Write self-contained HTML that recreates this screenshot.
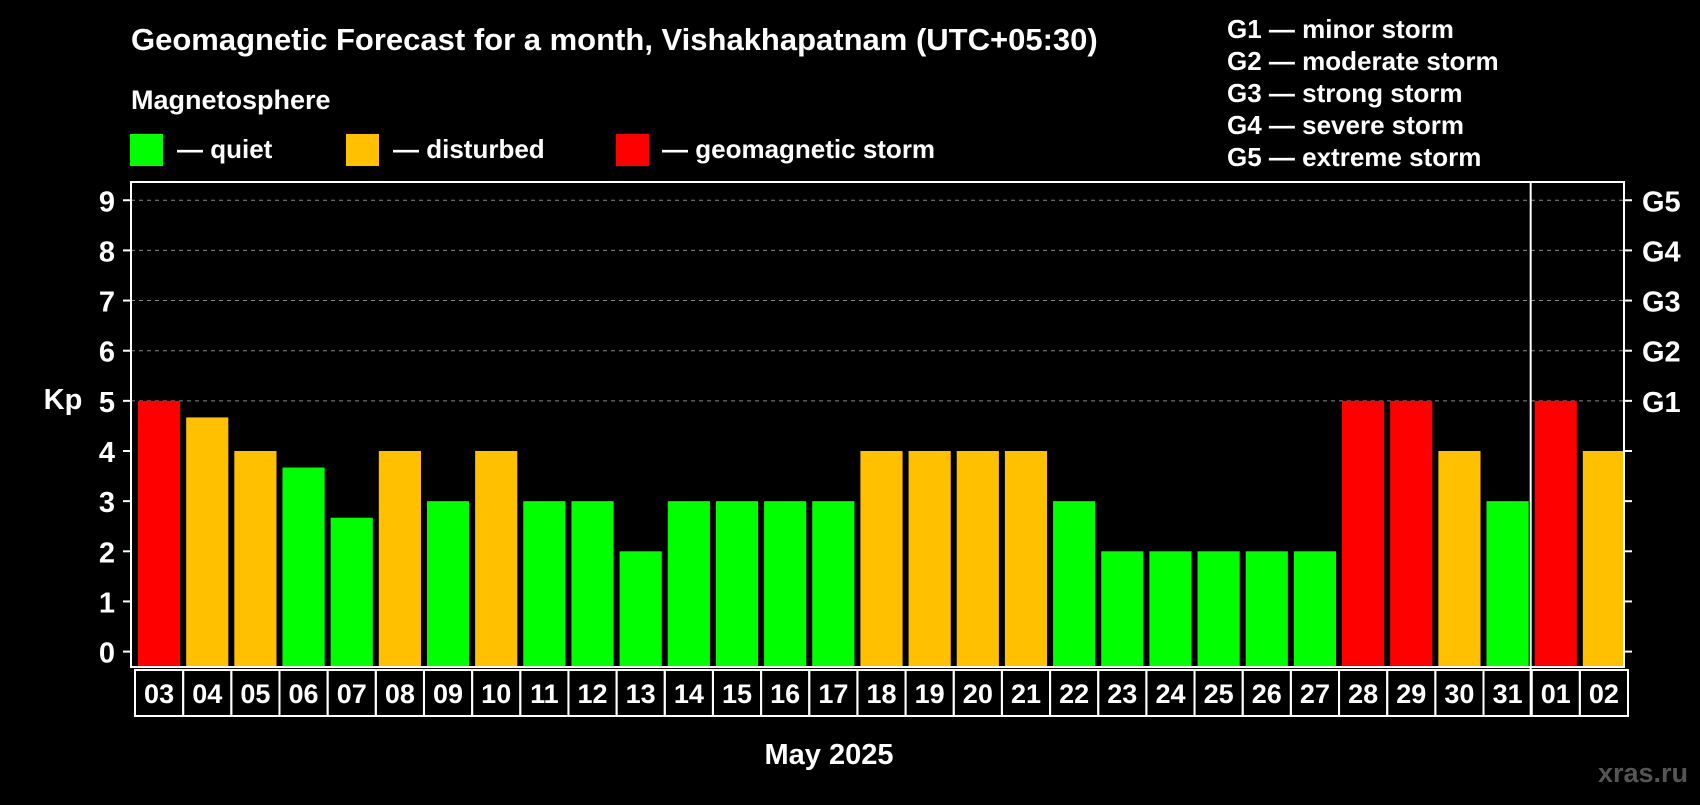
<!DOCTYPE html>
<html><head><meta charset="utf-8"><style>
body{margin:0;background:#000;width:1700px;height:800px;overflow:hidden;font-family:"Liberation Sans",sans-serif;font-weight:bold;color:#fff}
</style></head><body>
<svg id="chart" width="1700" height="800" xmlns="http://www.w3.org/2000/svg" font-family="Liberation Sans, sans-serif" font-weight="bold">
<rect width="1700" height="800" fill="#000"/>
<text x="131" y="50" font-size="31" fill="#fff">Geomagnetic Forecast for a month, Vishakhapatnam (UTC+05:30)</text>
<text x="131" y="109" font-size="27" fill="#fff">Magnetosphere</text>
<g><rect x="130" y="134" width="33" height="32" fill="#00ff00"/><text x="177" y="158" font-size="26" fill="#fff">— quiet</text></g>
<g><rect x="346" y="134" width="33" height="32" fill="#ffc000"/><text x="393" y="158" font-size="26" fill="#fff">— disturbed</text></g>
<g><rect x="616" y="134" width="33" height="32" fill="#ff0000"/><text x="662" y="158" font-size="26" fill="#fff">— geomagnetic storm</text></g>
<g font-size="26" fill="#fff">
<text x="1227" y="38">G1 — minor storm</text>
<text x="1227" y="70">G2 — moderate storm</text>
<text x="1227" y="102">G3 — strong storm</text>
<text x="1227" y="134">G4 — severe storm</text>
<text x="1227" y="166">G5 — extreme storm</text>
</g>
<text x="63" y="409" font-size="29" fill="#fff" text-anchor="middle">Kp</text>
<g id="grid"></g><g id="bars"></g><g id="axes"></g>
<text x="829" y="764" font-size="29" fill="#fff" text-anchor="middle">May 2025</text>
<text x="1688" y="782" font-size="27" fill="#555" text-anchor="end">xras.ru</text>
</svg>
<script>
const days=["03","04","05","06","07","08","09","10","11","12","13","14","15","16","17","18","19","20","21","22","23","24","25","26","27","28","29","30","31","01","02"];
const kp=[5,4.67,4,3.67,2.67,4,3,4,3,3,2,3,3,3,3,4,4,4,4,3,2,2,2,2,2,5,5,4,3,5,4];
const yTicks=[0,1,2,3,4,5,6,7,8,9];
const gLabels=["","","","","","G1","G2","G3","G4","G5"];
const NS="http://www.w3.org/2000/svg";
const L=131,R=1624,T=182,B=667,y0=651.6,unit=50.15;
const pitch=(R-L)/days.length;
function y(v){return y0-v*unit;}
function x(i){return L+i*pitch;}
function mk(tag,attrs,parent){const e=document.createElementNS(NS,tag);for(const k in attrs)e.setAttribute(k,attrs[k]);parent.appendChild(e);return e;}
const grid=document.getElementById('grid'),bars=document.getElementById('bars'),axes=document.getElementById('axes');
yTicks.forEach((t,i)=>{
 if(t>=5){const g=mk('line',{x1:L,x2:R,y1:y(t),y2:y(t),stroke:'#888','stroke-dasharray':'4,4','stroke-width':1},grid);
 
 }
 const tl=mk('line',{x1:L-8,x2:L,y1:y(t),y2:y(t),stroke:'#fff','stroke-width':2},axes);
 
 
 const tr=mk('line',{x1:R,x2:R+8,y1:y(t),y2:y(t),stroke:'#fff','stroke-width':2},axes);
 
 
 const lt=mk('text',{x:107,y:y(t)+11,'font-size':29,fill:'#fff','text-anchor':'middle'},axes);lt.textContent=t;
 
 
 if(gLabels[i]){const gt=mk('text',{x:1642,y:y(t)+11,'font-size':29,fill:'#fff'},axes);gt.textContent=gLabels[i];
 
 }
});
kp.forEach((v,i)=>{
 const c=v>=5?'#ff0000':(v>=4?'#ffc000':'#00ff00');
 const b=mk('rect',{x:x(i)+7,y:y(v),width:pitch-6,height:B-1-y(v),fill:c},bars);
 
 
 const bx=mk('rect',{x:x(i)+4,y:670,width:pitch,height:46,fill:'none',stroke:'#fff','stroke-width':2},axes);
 
 
 const tx=mk('text',{x:x(i)+4+pitch/2,y:703,'font-size':27,fill:'#fff','text-anchor':'middle'},axes);tx.textContent=days[i];
 
 
});
const fr=mk('rect',{x:L,y:T,width:R-L,height:B-T,fill:'none',stroke:'#fff','stroke-width':2},axes);


const mi=days.indexOf("01");
const ml=mk('line',{x1:x(mi)+3,x2:x(mi)+3,y1:T,y2:716,stroke:'#fff','stroke-width':2},axes);


</script>
</body></html>
